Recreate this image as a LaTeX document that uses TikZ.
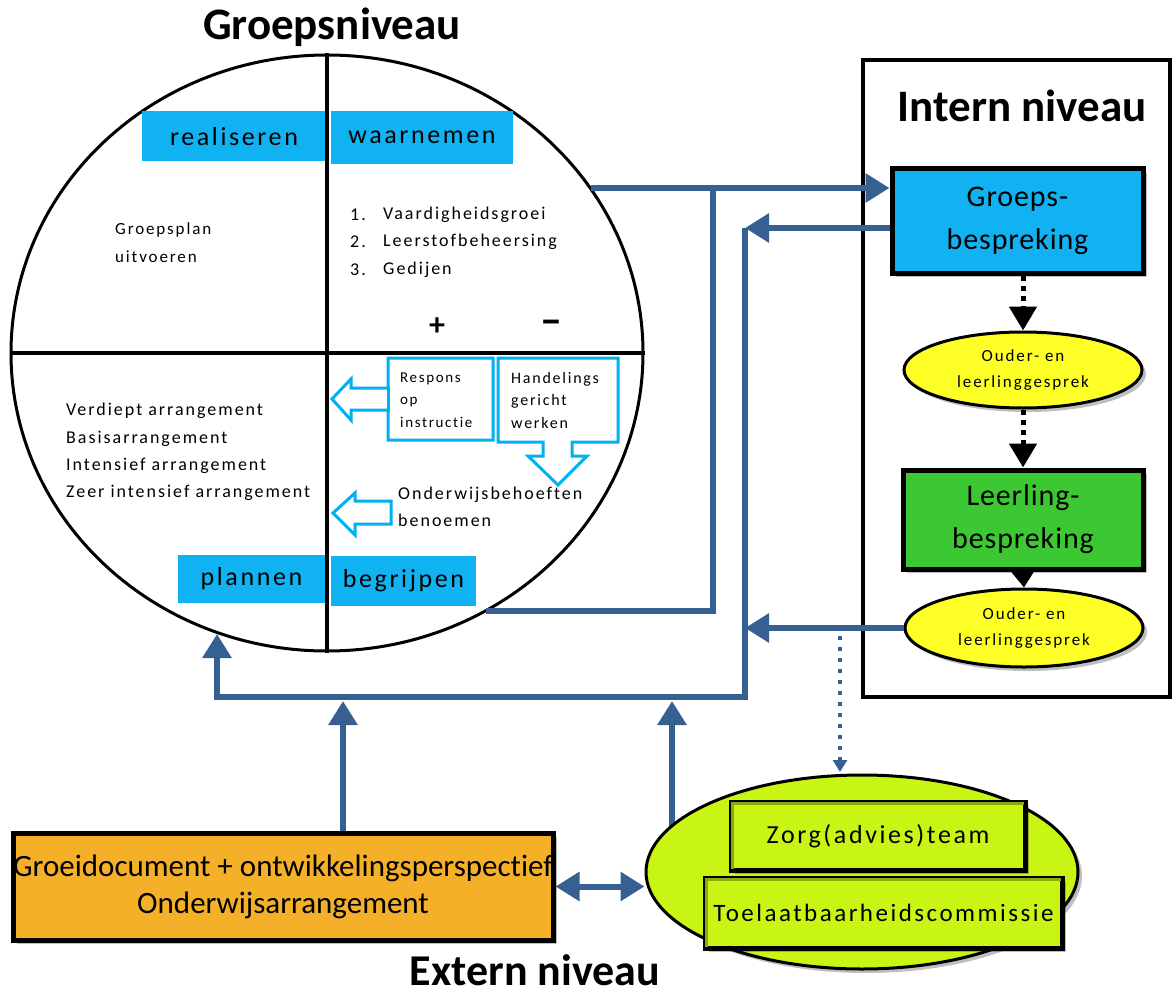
\documentclass[tikz,border=0pt]{standalone}
\usepackage{fontspec}
\setmainfont{Carlito}[Ligatures=CommonOff]
\newfontfamily\fsp[LetterSpace=11,Ligatures=CommonOff]{Carlito}
\newfontfamily\fmd[LetterSpace=10,Ligatures=CommonOff]{Carlito}
\newfontfamily\flt[LetterSpace=3,Ligatures=CommonOff]{Carlito}
\usetikzlibrary{arrows.meta,shapes.geometric,shadows,backgrounds}
\definecolor{cblue}{RGB}{16,178,242}
\definecolor{lblue}{RGB}{0,176,240}
\definecolor{dblue}{RGB}{55,96,146}
\definecolor{cgreen}{RGB}{60,200,50}
\definecolor{cyel}{RGB}{255,255,40}
\definecolor{corange}{RGB}{245,176,42}
\definecolor{clime}{RGB}{200,245,20}
\definecolor{colive}{RGB}{140,170,10}
\begin{document}
\begin{tikzpicture}[x=1pt,y=-1pt,
  conn/.style={draw=dblue,line width=6pt,-{Triangle[width=28pt,length=24pt]}},
  plainconn/.style={draw=dblue,line width=6pt,line join=miter},
  lab/.style={fill=cblue,inner sep=0pt,font=\fmd\fontsize{26}{30}\selectfont},
  ctext/.style={anchor=west,inner sep=0pt,align=left,font=\fsp\fontsize{18}{27.3}\selectfont},
  btext/.style={anchor=west,inner sep=0pt,align=left,font=\fsp\fontsize{15}{22.5}\selectfont},
  shad/.style={drop shadow={shadow xshift=4pt,shadow yshift=-4pt,opacity=0.25,fill=black}},
  box/.style={draw=black,line width=5pt,inner sep=0pt,align=center,shad},
  oval/.style={ellipse,draw=black,line width=3pt,fill=cyel,inner sep=0pt,align=center,shad,font=\fsp\fontsize{17}{26}\selectfont},
  title/.style={font=\bfseries\fontsize{45}{50}\selectfont,inner sep=0pt},
  dotarrow/.style={draw=black,line width=5pt,dash pattern=on 5pt off 5pt,-{Triangle[width=27pt,length=24pt]}},
  outl/.style={draw=lblue,line width=3pt,fill=white,line join=miter},
  inshade/.style={draw=colive,line width=3pt}
]
\useasboundingbox (0,0) rectangle (1172,995);
\begin{pgfonlayer}{background}
\fill[white] (0,0) rectangle (1172,995);
\end{pgfonlayer}

% ---- Groepsniveau circle ----
\node[title] (tgroep) at (332,27) {Groepsniveau};
\node[ellipse,draw=black,line width=3pt,minimum width=632pt,minimum height=596pt,inner sep=0pt] (circ) at (327,353) {};
\node[lab,minimum width=184pt,minimum height=50pt] (real) at (234,136.5) {realiseren};
\node[lab,minimum width=182pt,minimum height=53pt] (waar) at (422,137.5) {waarnemen};
\node[lab,minimum width=147pt,minimum height=48pt] (plan) at (251.5,579) {plannen};
\node[lab,minimum width=145pt,minimum height=50pt] (begr) at (403.5,581) {begrijpen};
\draw[line width=4pt] (circ.north) -- (circ.south);
\draw[line width=4pt] (circ.west) -- (circ.east);

\node[ctext,font=\fsp\fontsize{17}{28}\selectfont] (gpl) at (115,243) {Groepsplan\\uitvoeren};
\node[ctext] (n1) at (350,215) {1.};
\node[ctext] (n2) at (350,242) {2.};
\node[ctext] (n3) at (350,270) {3.};
\node[ctext] (l1) at (383,215) {Vaardigheidsgroei};
\node[ctext] (l2) at (383,242) {Leerstofbeheersing};
\node[ctext] (l3) at (383,270) {Gedijen};
\node[inner sep=0pt,font=\bfseries\fontsize{32}{34}\selectfont] (plus) at (437,327) {+};
\node[inner sep=0pt,font=\bfseries\fontsize{44}{44}\selectfont] (minus) at (551,327) {–};
\node[ctext] (arr) at (66,452) {Verdiept arrangement\\Basisarrangement\\Intensief arrangement\\Zeer intensief arrangement};

\draw[outl] (388,358) -- (493,358) -- (493,440) -- (388,440) -- (388,410) -- (351,410) -- (351,420) -- (332,399) -- (351,379) -- (351,388) -- (388,388) -- cycle;
\draw[draw=lblue,line width=3pt] (388,386) -- (388,412);
\draw[outl] (498,358) -- (618,358) -- (618,442) -- (572,442) -- (572,456) -- (587,456) -- (558,485) -- (528,456) -- (543,456) -- (543,442) -- (498,442) -- cycle;
\draw[outl] (391,501) -- (355,501) -- (355,493) -- (333,513) -- (355,535) -- (355,524) -- (391,524) -- cycle;
\node[btext] (resp) at (400,400) {Respons\\op\\instructie};
\node[btext,font=\fsp\fontsize{16}{22.5}\selectfont] (hand) at (511,400) {Handelings\\gericht\\werken};
\node[ctext] (ondw) at (398,506.5) {Onderwijsbehoeften\\benoemen};

% ---- Intern niveau ----
\node[draw=black,line width=4pt,minimum width=307pt,minimum height=637pt,inner sep=0pt] (intern) at (1016.5,378.5) {};
\node[title] (tintern) at (1022,106) {Intern niveau};
\node[box,fill=cblue,minimum width=251pt,minimum height=104pt,font=\flt\fontsize{30}{43}\selectfont] (grp) at (1017.5,221) {Groeps-\\bespreking};
\node[oval,minimum width=238pt,minimum height=76pt] (ell1) at (1023,370) {Ouder- en\\leerlinggesprek};
\node[box,fill=cgreen,minimum width=240pt,minimum height=99pt,font=\flt\fontsize{30}{43}\selectfont] (leer) at (1023,519.5) {Leerling-\\bespreking};
\node[oval,minimum width=238pt,minimum height=78pt] (ell2) at (1024,628) {Ouder- en\\leerlinggesprek};
\draw[dotarrow] (grp.south -| ell1.north) -- (ell1.north);
\draw[dotarrow] (ell1.south) -- (leer.north);
\draw[draw=black,line width=4pt,-{Triangle[width=22pt,length=16pt]}] (leer.south) -- (ell2.north);

% ---- Extern niveau ----
\node[box,fill=corange,minimum width=540pt,minimum height=107pt,font=\fontsize{31}{37}\selectfont] (orange) at (283,886.5) {Groeidocument + ontwikkelingsperspectief\\Onderwijsarrangement};
\node[ellipse,draw=black,line width=3pt,fill=clime,minimum width=432pt,minimum height=194pt,inner sep=0pt,shad] (ellG) at (862,872) {};
\node[box,fill=clime,minimum width=294pt,minimum height=68pt,font=\fmd\fontsize{26}{30}\selectfont] (zorg) at (878,836) {Zorg(advies)team};
\draw[inshade] ([shift={(4,-4)}]zorg.south west) -- ([shift={(4,4)}]zorg.north west) -- ([shift={(-4,4)}]zorg.north east);
\node[box,fill=clime,minimum width=357pt,minimum height=70pt,font=\fmd\fontsize{25}{30}\selectfont] (toel) at (883.5,913) {Toelaatbaarheidscommissie};
\draw[inshade] ([shift={(4,-4)}]toel.south west) -- ([shift={(4,4)}]toel.north west) -- ([shift={(-4,4)}]toel.north east);
\node[title,font=\bfseries\fontsize{44}{48}\selectfont] (textern) at (535,970) {Extern niveau};

% ---- connectors ----
\coordinate (c1) at (591,188);
\coordinate (b1) at (486,611);
\coordinate (b2) at (713,611);
\coordinate (gk) at (745,228);
\coordinate (lb) at (745,697);
\coordinate (lc) at (217,697);
\coordinate (lt) at (217,634);
\coordinate (up2) at (343,701);
\coordinate (up3) at (672,701);
\coordinate (d1) at (840,636);
\coordinate (d2) at (840,772);

\draw[conn] (c1) -- (c1 -| grp.west);
\draw[plainconn] (b1) -- (b2) -- (b2 |- c1);
\draw[conn] (grp.west |- gk) -- (gk);
\draw[conn,line join=miter] (gk) -- (lb) -- (lc) -- (lt);
\draw[conn] (ell2.west) -- (ell2.west -| lb);
\draw[conn] (orange.north -| up2) -- (up2);
\begin{pgfonlayer}{background}
\draw[conn] (ellG.center -| up3) -- (up3);
\end{pgfonlayer}
\draw[draw=dblue,line width=4pt,dash pattern=on 4pt off 7pt,-{Triangle[width=14pt,length=12pt]}] (d1) -- (d2);
\draw[draw=dblue,line width=6pt,{Triangle[width=28pt,length=24pt]}-{Triangle[width=28pt,length=24pt]}] (orange.east) -- (orange.east -| ellG.west);
\end{tikzpicture}
\end{document}
